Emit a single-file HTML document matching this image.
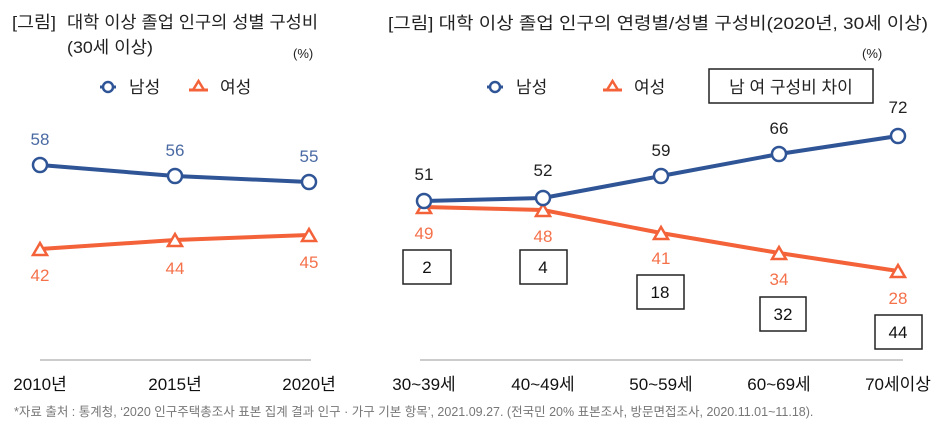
<!DOCTYPE html>
<html><head><meta charset="utf-8"><style>
body{margin:0;background:#fff;}
svg{display:block;font-family:"Liberation Sans","Noto Sans CJK KR",sans-serif;}
</style></head><body>
<svg width="950" height="438" viewBox="0 0 950 438" xmlns="http://www.w3.org/2000/svg">
<g font-size="17" fill="#222">
<text x="12" y="28" textLength="44" lengthAdjust="spacingAndGlyphs">[그림]</text>
<text x="67" y="28" textLength="251" lengthAdjust="spacingAndGlyphs">대학 이상 졸업 인구의 성별 구성비</text>
<text x="67" y="53" textLength="86" lengthAdjust="spacingAndGlyphs">(30세 이상)</text>
<text x="293" y="58" font-size="13">(%)</text>
<text x="388" y="29" textLength="540" lengthAdjust="spacingAndGlyphs">[그림] 대학 이상 졸업 인구의 연령별/성별 구성비(2020년, 30세 이상)</text>
<text x="862" y="58" font-size="13">(%)</text>
</g>
<!-- legends -->
<g font-size="17" fill="#222">
<line x1="100" y1="87" x2="116" y2="87" stroke="#2f5597" stroke-width="3"/>
<circle cx="108" cy="87" r="5" fill="#fff" stroke="#2f5597" stroke-width="2.5"/>
<text x="129" y="93">남성</text>
<line x1="189" y1="90" x2="208" y2="90" stroke="#f4623a" stroke-width="3"/>
<polygon points="198.5,81 193,90 204,90" fill="#fff" stroke="#f4623a" stroke-width="2.5"/>
<text x="220" y="93">여성</text>
<line x1="487" y1="87" x2="503" y2="87" stroke="#2f5597" stroke-width="3"/>
<circle cx="495" cy="87" r="5" fill="#fff" stroke="#2f5597" stroke-width="2.5"/>
<text x="516" y="93">남성</text>
<line x1="603" y1="90" x2="622" y2="90" stroke="#f4623a" stroke-width="3"/>
<polygon points="612.5,81 607,90 618,90" fill="#fff" stroke="#f4623a" stroke-width="2.5"/>
<text x="634" y="93">여성</text>
<rect x="709" y="69" width="164" height="34" fill="#fff" stroke="#222" stroke-width="1.5"/>
<text x="791" y="93" text-anchor="middle">남 여 구성비 차이</text>
</g>
<!-- axes -->
<line x1="40" y1="360" x2="311" y2="360" stroke="#bbb" stroke-width="1.5"/>
<line x1="420" y1="360" x2="903" y2="360" stroke="#bbb" stroke-width="1.5"/>
<g font-size="17" fill="#111" text-anchor="middle">
<text x="40" y="390">2010년</text><text x="175" y="390">2015년</text><text x="309" y="390">2020년</text>
<text x="424" y="390">30~39세</text><text x="543" y="390">40~49세</text><text x="661" y="390">50~59세</text><text x="779" y="390">60~69세</text><text x="898" y="390">70세이상</text>
</g>
<text x="14" y="416" font-size="12.5" fill="#777">*자료 출처 : 통계청, ‘2020 인구주택총조사 표본 집계 결과 인구 · 가구 기본 항목’, 2021.09.27. (전국민 20% 표본조사, 방문면접조사, 2020.11.01~11.18).</text>
<!-- left series -->
<polyline points="40,165 175,176 309,182" fill="none" stroke="#2f5597" stroke-width="4"/>
<polyline points="40,249 175,240 309,235" fill="none" stroke="#f4623a" stroke-width="4"/>
<g fill="#fff" stroke="#2f5597" stroke-width="2.5">
<circle cx="40" cy="165" r="7"/><circle cx="175" cy="176" r="7"/><circle cx="309" cy="182" r="7"/>
</g>
<g fill="#fff" stroke="#f4623a" stroke-width="2.5">
<polygon points="40,243 33,255 47,255"/><polygon points="175,234 168,246 182,246"/><polygon points="309,229 302,241 316,241"/>
</g>
<g font-size="17" fill="#4a6aa3" text-anchor="middle">
<text x="40" y="145">58</text><text x="175" y="156">56</text><text x="309" y="162">55</text>
</g>
<g font-size="17" fill="#f4714a" text-anchor="middle">
<text x="40" y="281">42</text><text x="175" y="274">44</text><text x="309" y="268">45</text>
</g>
<!-- right series -->
<polyline points="424,201 543,198 661,176 779,154 898,136" fill="none" stroke="#2f5597" stroke-width="4"/>
<polyline points="424,207 543,210 661,233 779,253 898,271" fill="none" stroke="#f4623a" stroke-width="4"/>
<g fill="#fff" stroke="#f4623a" stroke-width="2.5">
<polygon points="424,201 417,213 431,213"/><polygon points="543,204 536,216 550,216"/><polygon points="661,227 654,239 668,239"/><polygon points="779,247 772,259 786,259"/><polygon points="898,265 891,277 905,277"/>
</g>
<g fill="#fff" stroke="#2f5597" stroke-width="2.5">
<circle cx="424" cy="201" r="7"/><circle cx="543" cy="198" r="7"/><circle cx="661" cy="176" r="7"/><circle cx="779" cy="154" r="7"/><circle cx="898" cy="136" r="7"/>
</g>
<g font-size="17" fill="#222" text-anchor="middle">
<text x="424" y="180">51</text><text x="543" y="176">52</text><text x="661" y="156">59</text><text x="779" y="134">66</text><text x="898" y="113">72</text>
</g>
<g font-size="17" fill="#f4714a" text-anchor="middle">
<text x="424" y="239">49</text><text x="543" y="242">48</text><text x="661" y="264">41</text><text x="779" y="285">34</text><text x="898" y="304">28</text>
</g>
<g fill="#fff" stroke="#222" stroke-width="1.5">
<rect x="403" y="250" width="48" height="34"/><rect x="520" y="250" width="47" height="34"/><rect x="637" y="275" width="47" height="34"/><rect x="760" y="297" width="46" height="34"/><rect x="875" y="315" width="47" height="34"/>
</g>
<g font-size="17" fill="#111" text-anchor="middle">
<text x="427" y="273">2</text><text x="543" y="273">4</text><text x="660" y="298">18</text><text x="783" y="320">32</text><text x="898" y="338">44</text>
</g>
</svg>
</body></html>
